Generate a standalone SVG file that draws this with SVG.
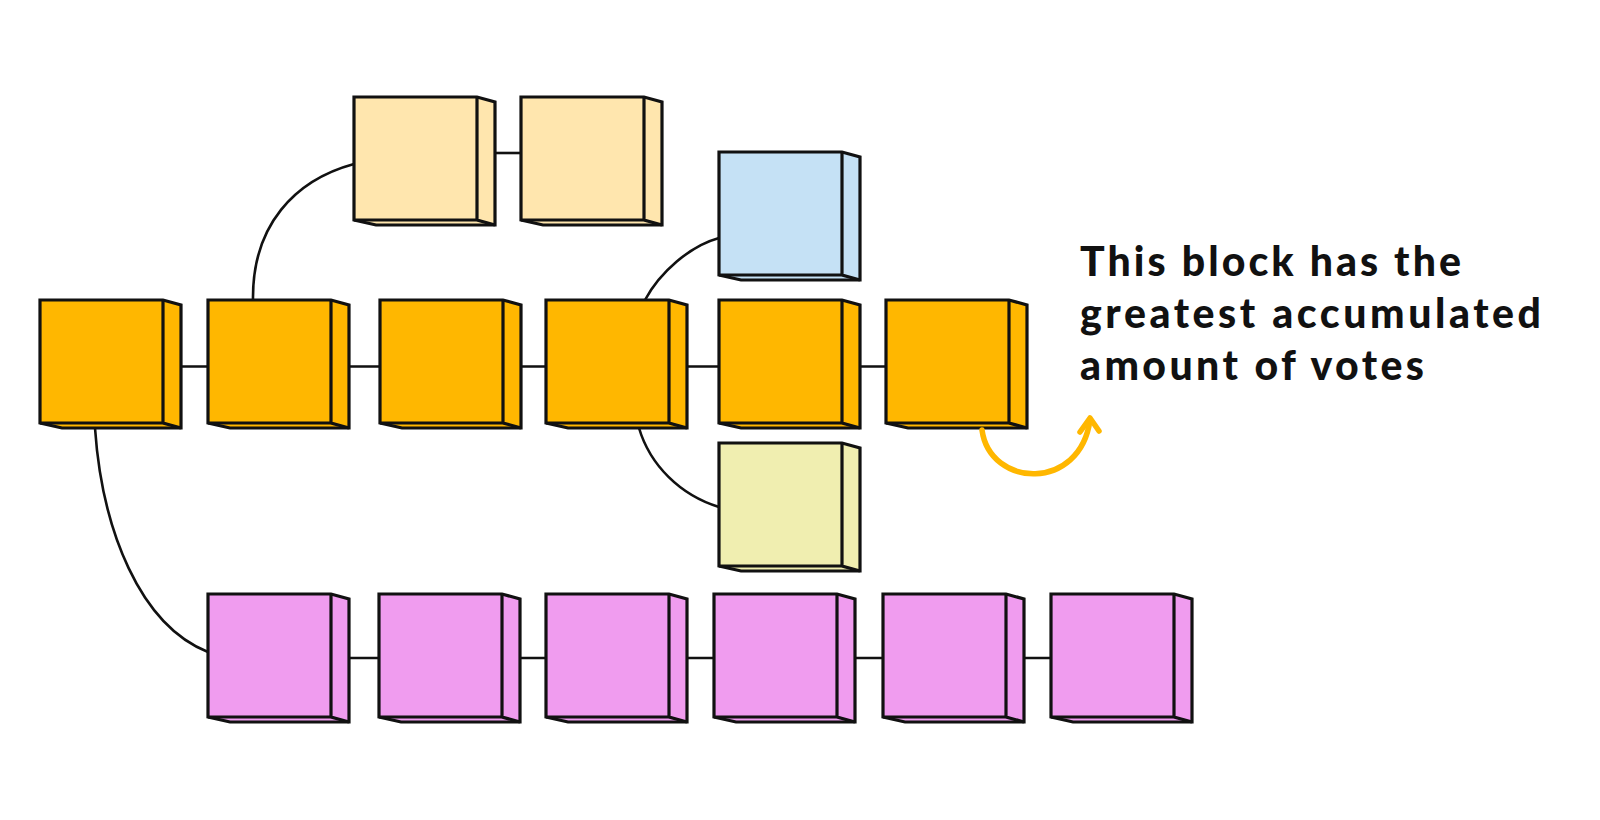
<svg xmlns="http://www.w3.org/2000/svg" xmlns:xlink="http://www.w3.org/1999/xlink" width="1600" height="820" viewBox="0 0 1600 820">
<style>
.cube{stroke:#111;stroke-width:3.2;stroke-linejoin:miter}
.orange{fill:#FFB700}
.peach{fill:#FFE6AE}
.blue{fill:#C5E1F5}
.lime{fill:#F0EEB0}
.pink{fill:#F09CEF}
.link{fill:none;stroke:#111;stroke-width:2.6}
.label{font-family:Lato,"Open Sans",sans-serif;font-weight:900;font-size:41px;fill:#111}
.hl{fill:none;stroke:#FFB700;stroke-width:5.5;stroke-linecap:round;stroke-linejoin:round}
</style>
<defs>
<g id="cube">
<path d="M0,0 H123 L141,5 V128 H22 L0,123 Z"/>
<path d="M123,0 V123 L141,128 M0,123 H123" fill="none"/>
</g>
</defs>
<rect width="1600" height="820" fill="#fff"/>
<g id="connectors">
<path class="link" d="M181,366.5 H208 M349,366.5 H380 M521,366.5 H546 M687,366.5 H719 M860,366.5 H886"/>
<path class="link" d="M349,658 H379 M520,658 H546 M687,658 H714 M855,658 H883 M1024,658 H1051"/>
<path class="link" d="M495,153 H521"/>
<path class="link" d="M253,300 C252,225 295,180 354,164"/>
<path class="link" d="M645,300 C660,272 690,246 719,238"/>
<path class="link" d="M639,428 C650,465 680,495 719,507"/>
<path class="link" d="M95,428 C102,530 140,625 208,652"/>
</g>
<g id="main1" transform="translate(40,300)"><use href="#cube" class="cube orange"/></g>
<g id="main2" transform="translate(208,300)"><use href="#cube" class="cube orange"/></g>
<g id="main3" transform="translate(380,300)"><use href="#cube" class="cube orange"/></g>
<g id="main4" transform="translate(546,300)"><use href="#cube" class="cube orange"/></g>
<g id="main5" transform="translate(719,300)"><use href="#cube" class="cube orange"/></g>
<g id="main6" transform="translate(886,300)"><use href="#cube" class="cube orange"/></g>
<g id="fork1" transform="translate(354,97)"><use href="#cube" class="cube peach"/></g>
<g id="fork2" transform="translate(521,97)"><use href="#cube" class="cube peach"/></g>
<g id="uncle-blue" transform="translate(719,152)"><use href="#cube" class="cube blue"/></g>
<g id="uncle-lime" transform="translate(719,443)"><use href="#cube" class="cube lime"/></g>
<g id="alt1" transform="translate(208,594)"><use href="#cube" class="cube pink"/></g>
<g id="alt2" transform="translate(379,594)"><use href="#cube" class="cube pink"/></g>
<g id="alt3" transform="translate(546,594)"><use href="#cube" class="cube pink"/></g>
<g id="alt4" transform="translate(714,594)"><use href="#cube" class="cube pink"/></g>
<g id="alt5" transform="translate(883,594)"><use href="#cube" class="cube pink"/></g>
<g id="alt6" transform="translate(1051,594)"><use href="#cube" class="cube pink"/></g>
<g id="pointer">
<path class="hl" d="M982,430 C990,488 1080,492 1090,420"/>
<path class="hl" d="M1080,432 L1090,418 L1099,431"/>
</g>
<g id="caption">
<text class="label" x="1080" y="276" textLength="381" lengthAdjust="spacing">This block has the</text>
<text class="label" x="1080" y="328" textLength="461" lengthAdjust="spacing">greatest accumulated</text>
<text class="label" x="1080" y="380" textLength="344" lengthAdjust="spacing">amount of votes</text>
</g>
</svg>
